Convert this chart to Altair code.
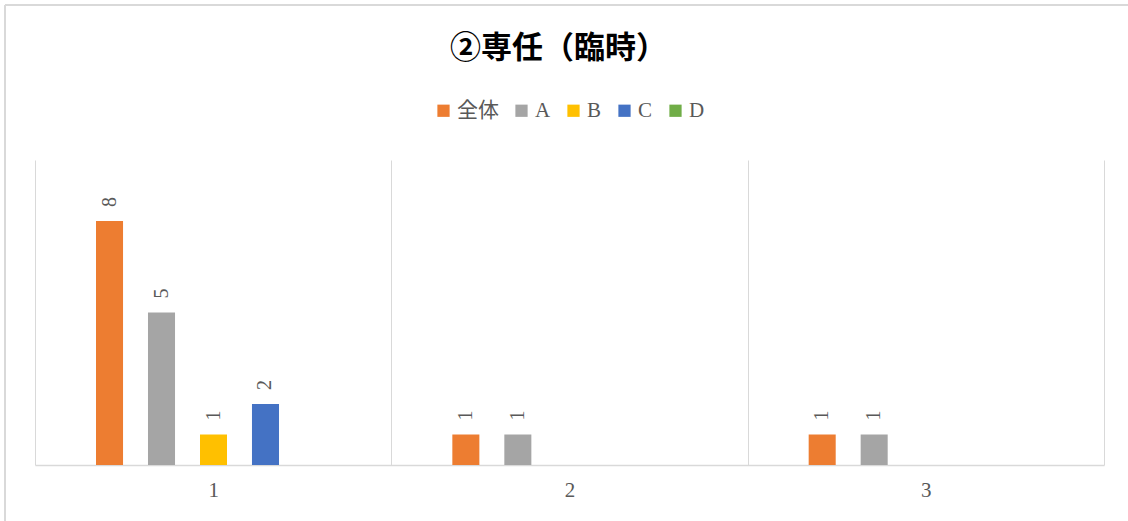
import altair as alt
import pandas as pd

categories = ["1", "2", "3"]
series = ["全体", "A", "B", "C", "D"]
colors = ["#ED7D31", "#A5A5A5", "#FFC000", "#4472C4", "#70AD47"]
values = {
    "全体": [8, 1, 1],
    "A": [5, 1, 1],
    "B": [1, None, None],
    "C": [2, None, None],
    "D": [None, None, None],
}

rows = []
for s in series:
    for c, v in zip(categories, values[s]):
        if v is not None:
            rows.append({"category": c, "series": s, "value": v})
df = pd.DataFrame(rows)

SERIF = "Liberation Serif, Noto Sans CJK JP"

x = alt.X(
    "category:N",
    sort=categories,
    scale=alt.Scale(paddingInner=0, paddingOuter=0),
    axis=alt.Axis(
        title=None, labelAngle=0, grid=True, tickBand="extent", ticks=False,
        gridColor="#D9D9D9", gridWidth=1, domainColor="#D9D9D9", domainWidth=1.5,
        labelFont=SERIF, labelFontSize=21, labelColor="#595959", labelPadding=14,
    ),
)
xoff = alt.XOffset(
    "series:N",
    sort=series,
    scale=alt.Scale(domain=series, paddingInner=0.48, paddingOuter=0, range=[61, 296]),
)
y = alt.Y("value:Q", scale=alt.Scale(domain=[0, 10]), axis=None)

bars = alt.Chart(df).mark_bar().encode(
    x=x,
    xOffset=xoff,
    y=y,
    color=alt.Color(
        "series:N",
        sort=series,
        scale=alt.Scale(domain=series, range=colors),
        legend=alt.Legend(
            title=None, orient="none", direction="horizontal",
            legendX=398, legendY=-60,
            symbolType="square", symbolSize=150, symbolStrokeWidth=0,
            labelFont=SERIF, labelFontSize=21, labelColor="#595959",
            labelOffset=3, columnPadding=12,
        ),
    ),
)

labels = alt.Chart(df).mark_text(
    angle=270, align="left", baseline="middle", dx=14,
    font=SERIF, fontSize=20, color="#595959",
).encode(
    x=x,
    xOffset=xoff,
    y=y,
    text=alt.Text("value:Q"),
)

# outer chart-area frame (left and top edges visible in the reference)
frame_left = alt.Chart(df).mark_rule(color="#D9D9D9", strokeWidth=1.5).encode(
    x=alt.value(-30), y=alt.value(-155), y2=alt.value(361)
)
frame_top = alt.Chart(df).mark_rule(color="#D9D9D9", strokeWidth=1.5).encode(
    x=alt.value(-30), x2=alt.value(1093), y=alt.value(-155)
)

chart = (
    alt.layer(bars, labels, frame_left, frame_top)
    .properties(
        width=1069,
        height=305,
        autosize=alt.AutoSizeParams(type="none"),
        padding={"left": 35, "top": 160, "right": 24, "bottom": 56},
        title=alt.TitleParams(
            "②専任（臨時）", anchor="middle", offset=-61, dx=-11,
            font="Noto Sans CJK JP", fontSize=31, fontWeight="bold", color="#000000",
        ),
    )
    .configure_view(stroke=None)
)

chart.save("out.html", embed_options={"renderer": "svg", "actions": False})
